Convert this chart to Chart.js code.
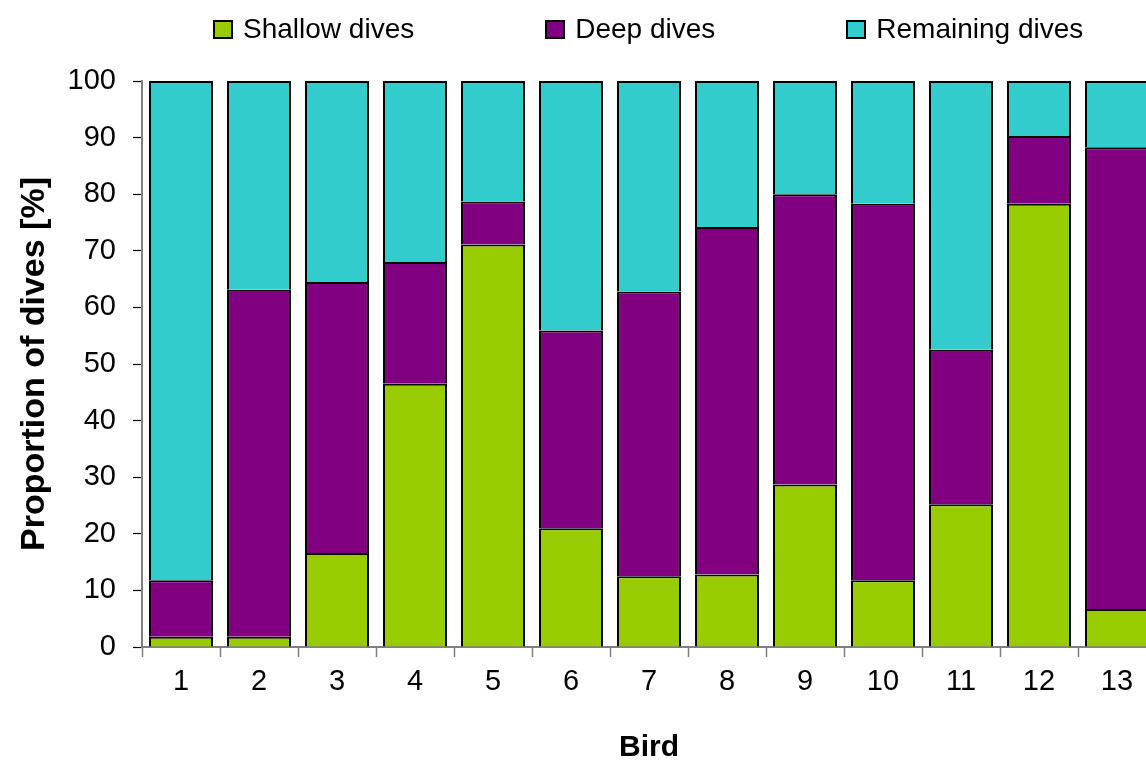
<!DOCTYPE html>
<html>
<head>
<meta charset="utf-8">
<script src="https://cdn.jsdelivr.net/npm/chart.js@4.4.1/dist/chart.umd.min.js"></script>
<style>
  html, body { margin: 0; padding: 0; background: #fff; overflow: hidden; width: 1146px; height: 760px; }
  #wrap { position: absolute; left: 0; top: 0; width: 1160px; height: 760px; }
  #legend { position: absolute; left: 213px; top: 12px; height: 34px; display: flex; align-items: center;
            font-family: 'Liberation Sans', Arial, sans-serif; font-size: 28px; color: #000; white-space: nowrap; }
  .item { display: flex; align-items: center; margin-right: 131px; }
  .item:last-child { margin-right: 0; }
  .box { width: 16px; height: 15px; border: 2px solid #000; margin-right: 10px; }
</style>
</head>
<body>
<div id="wrap"><canvas id="c" width="1160" height="760"></canvas></div>
<div id="legend"></div>
<script>
const birds = ['1','2','3','4','5','6','7','8','9','10','11','12','13'];
const shallowDives   = [1.8, 1.8, 16.6, 46.5, 71.1, 21.0, 12.5, 12.8, 28.7, 11.8, 25.2, 78.3, 6.7];
const deepDives      = [10.0, 61.3, 47.9, 21.5, 7.6, 34.9, 50.3, 61.4, 51.3, 66.5, 27.3, 12.0, 81.6];
const remainingDives = [88.2, 36.9, 35.5, 32.0, 21.3, 44.1, 37.2, 25.8, 20.0, 21.7, 47.5, 9.7, 11.7];
const seriesNames = ['Shallow dives', 'Deep dives', 'Remaining dives'];
const yTicks = [0, 10, 20, 30, 40, 50, 60, 70, 80, 90, 100];

const FONT = "'Liberation Sans', Arial, sans-serif";
const colors = ['#99CC00', '#800080', '#33CCCC'];
const values = [shallowDives, deepDives, remainingDives];

const datasets = seriesNames.map((name, i) => ({
  label: name,
  data: values[i],
  backgroundColor: colors[i],
  borderColor: '#000000',
  borderWidth: 2,
  borderSkipped: 'bottom',
  barPercentage: 0.82,
  categoryPercentage: 1.0
}));

const chart = new Chart(document.getElementById('c'), {
  type: 'bar',
  data: { labels: birds, datasets },
  options: {
    responsive: false,
    animation: false,
    devicePixelRatio: 1,
    layout: { padding: { top: 81, right: 4, bottom: 0, left: 0 } },
    plugins: { legend: { display: false }, tooltip: { enabled: false } },
    scales: {
      x: {
        stacked: true,
        afterFit: (s) => { s.height = 113; },
        grid: { drawOnChartArea: false, offset: true, tickLength: 10, tickColor: '#808080', tickWidth: 1.5 },
        border: { color: '#808080', width: 2 },
        ticks: { color: '#000', padding: 8, font: { family: FONT, size: 29 } },
        title: { display: true, text: 'Bird', color: '#000', font: { family: FONT, size: 30, weight: 'bold', lineHeight: 0.85 }, padding: { top: 0, bottom: 0 } }
      },
      y: {
        stacked: true,
        min: 0, max: 100,
        afterFit: (s) => { s.width = 142; },
        afterBuildTicks: (s) => { s.ticks = yTicks.map(v => ({ value: v })); },
        grid: { drawOnChartArea: false, tickLength: 9, tickColor: '#000', tickWidth: 1.2 },
        border: { color: '#808080', width: 2 },
        ticks: { color: '#000', padding: 17, font: { family: FONT, size: 29 } },
        title: { display: true, text: 'Proportion of dives [%]', color: '#000', font: { family: FONT, size: 34, weight: 'bold', lineHeight: 1 }, padding: { top: 18, bottom: 0 } }
      }
    }
  }
});

// HTML legend built from the chart's own legend items
const items = Chart.defaults.plugins.legend.labels.generateLabels(chart);
const lg = document.getElementById('legend');
items.forEach(it => {
  const d = document.createElement('div'); d.className = 'item';
  const b = document.createElement('div'); b.className = 'box'; b.style.background = it.fillStyle;
  const t = document.createElement('span'); t.textContent = it.text;
  d.appendChild(b); d.appendChild(t); lg.appendChild(d);
});
</script>
</body>
</html>
